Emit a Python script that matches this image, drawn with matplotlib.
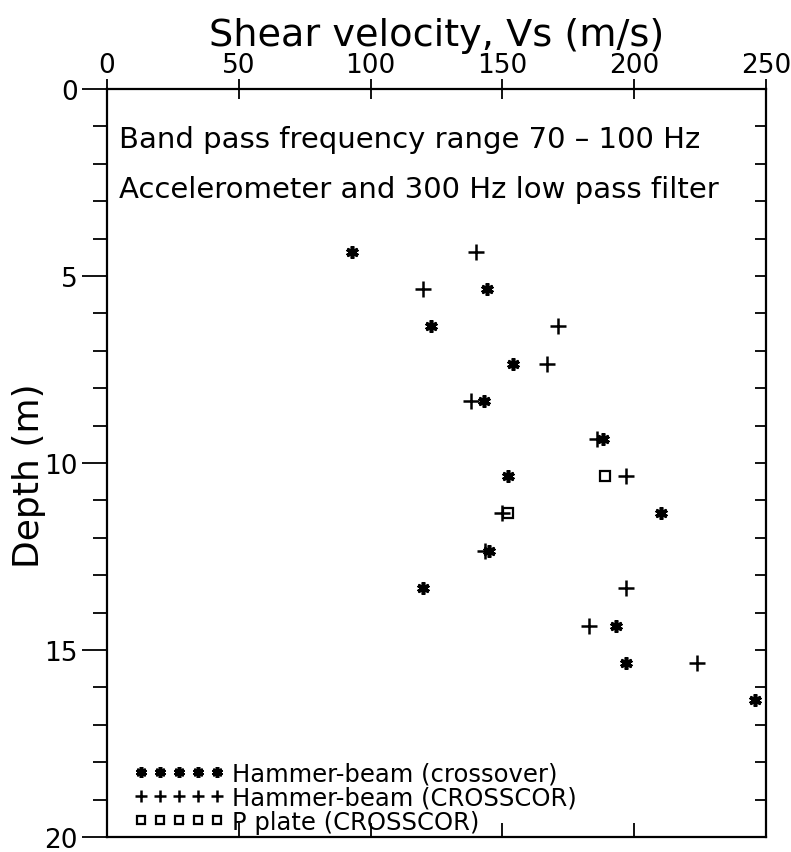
import matplotlib
matplotlib.use("Agg")
import matplotlib.pyplot as plt
from matplotlib.ticker import MultipleLocator

plt.rcParams['font.family'] = ['DejaVu Sans']

# Data (depth in m, shear velocity in m/s)
depth_crossover = [4.35, 5.35, 6.35, 7.35, 8.35, 9.35, 10.35, 11.35, 12.35, 13.35, 14.35, 15.35, 16.35]
vs_crossover = [93, 144, 123, 154, 143, 188, 152, 210, 145, 120, 193, 197, 246]

depth_crosscor = [4.35, 5.35, 6.35, 7.35, 8.35, 9.35, 10.35, 11.35, 12.35, 13.35, 14.35, 15.35]
vs_crosscor = [140, 120, 171, 167, 138, 186, 197, 150, 143.5, 197, 183, 224]

depth_pplate = [10.35, 11.35]
vs_pplate = [189, 152]

x_ticks = [0, 50, 100, 150, 200, 250]
y_ticks = [0, 5, 10, 15, 20]

fig = plt.figure(figsize=(7.91, 8.53), dpi=100)
ax = fig.add_axes([0.1353, 0.0176, 0.8331, 0.8769])

ax.plot(vs_crossover, depth_crossover, linestyle='none', marker=(6, 2, 0),
        markersize=9, markeredgewidth=2.6, color='black',
        label='Hammer-beam (crossover)')
ax.plot(vs_crosscor, depth_crosscor, linestyle='none', marker='+',
        markersize=11, markeredgewidth=1.8, color='black',
        label='Hammer-beam (CROSSCOR)')
ax.plot(vs_pplate, depth_pplate, linestyle='none', marker='s',
        markersize=7.5, markeredgewidth=1.6, markerfacecolor='none',
        markeredgecolor='black', label='P plate (CROSSCOR)')

ax.set_xlim(0, 250)
ax.set_ylim(20, 0)

for s in ax.spines.values():
    s.set_linewidth(1.6)

# x axis on top
ax.xaxis.set_ticks_position('both')
ax.xaxis.set_label_position('top')
ax.set_xticks(x_ticks)
ax.tick_params(axis='x', which='major', top=True, bottom=True,
               labeltop=True, labelbottom=False, direction='inout',
               length=14, width=1.3, labelsize=19, pad=1)
ax.set_xlabel('Shear velocity, Vs (m/s)', fontsize=27.5, labelpad=5)

# y axis
ax.set_yticks(y_ticks)
ax.yaxis.set_minor_locator(MultipleLocator(1))
ax.yaxis.set_ticks_position('both')
ax.tick_params(axis='y', which='major', left=True, right=True,
               direction='out', length=18, width=1.3, labelsize=19, pad=3)
ax.tick_params(axis='y', which='minor', left=True, right=True,
               direction='out', length=10, width=1.3)
ax.set_ylabel('Depth (m)', fontsize=26)
ax.yaxis.set_label_coords(-0.092, 0.485)

# Right spine ticks point inward
for t in ax.yaxis.get_major_ticks() + ax.yaxis.get_minor_ticks():
    t.tick2line.set_marker(0)
    t.tick2line.set_markersize(8)
# Bottom ticks inward
for t in ax.xaxis.get_major_ticks():
    t.tick1line.set_marker(2)
    t.tick1line.set_markersize(10)

ax.text(0.018, 0.933, 'Band pass frequency range 70 \u2013 100 Hz',
        transform=ax.transAxes, fontsize=21, ha='left', va='center')
ax.text(0.018, 0.866, 'Accelerometer and 300 Hz low pass filter',
        transform=ax.transAxes, fontsize=21, ha='left', va='center')

leg = ax.legend(loc='lower left', bbox_to_anchor=(0.041, 0.004),
                frameon=False, numpoints=5, handlelength=3.7,
                handletextpad=0.35, labelspacing=0.0, fontsize=17.5,
                borderaxespad=0.0, borderpad=0.0, markerscale=0.85)

fig.savefig('out.png', dpi=100)
